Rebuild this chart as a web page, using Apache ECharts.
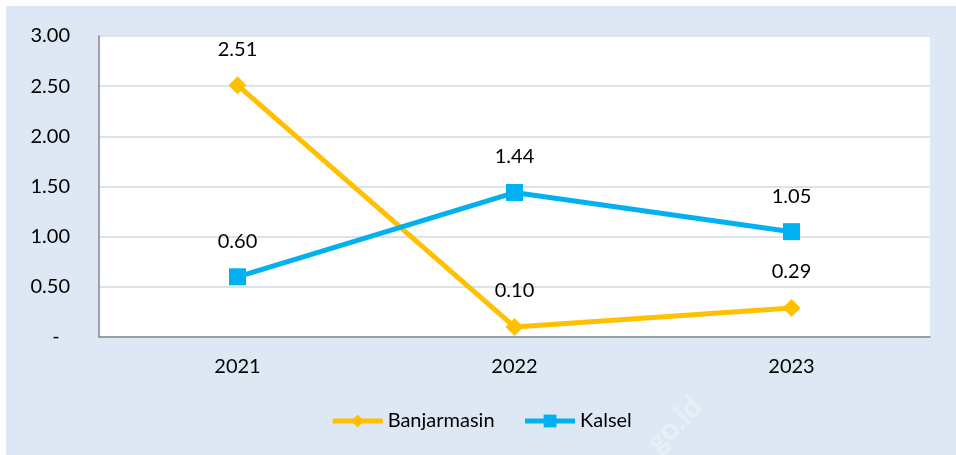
<!DOCTYPE html>
<html>
<head>
<meta charset="utf-8">
<script src="https://cdn.jsdelivr.net/npm/echarts@6/dist/echarts.min.js"></script>
<style>
  html, body { margin: 0; padding: 0; background: #fff; }
  #chart { position: absolute; left: 6px; top: 6px; width: 950px; height: 449px; }
</style>
</head>
<body>
<div id="chart"></div>
<script>
var years = ["2021", "2022", "2023"];
var banjarmasin = [2.51, 0.10, 0.29];
var kalsel = [0.60, 1.44, 1.05];

var font = "Lato, 'Open Sans', sans-serif";
var myChart = echarts.init(document.getElementById("chart"));

var option = {
  backgroundColor: "#dee8f4",
  animation: false,
  textStyle: { fontFamily: font },
  grid: {
    left: 93,
    top: 30,
    width: 831,
    height: 301,
    show: true,
    backgroundColor: "#fff",
    borderWidth: 0
  },
  legend: {
    bottom: 19,
    left: "center",
    itemWidth: 50,
    itemHeight: 16,
    itemGap: 28,
    lineStyle: { width: 5 },
    textStyle: { fontSize: 20, color: "#000", fontFamily: font },
    data: ["Banjarmasin", "Kalsel"]
  },
  xAxis: {
    type: "category",
    data: years,
    axisLine: { lineStyle: { color: "#868686", width: 1.5 } },
    axisTick: { show: false },
    axisLabel: { fontSize: 20, color: "#000", margin: 20 }
  },
  yAxis: {
    type: "value",
    min: 0,
    max: 3,
    interval: 0.5,
    axisLine: { show: true, lineStyle: { color: "#868686", width: 1.5 } },
    axisTick: { show: false },
    splitLine: { lineStyle: { color: "#dde3ea", width: 2 } },
    axisLabel: {
      fontSize: 20,
      color: "#000",
      margin: 29,
      formatter: function (v) {
        // accounting style dash for zero
        return v === 0 ? "-  " : v.toFixed(2);
      }
    }
  },
  series: [
    {
      name: "Banjarmasin",
      type: "line",
      data: banjarmasin,
      symbol: "diamond",
      symbolSize: 18,
      lineStyle: { width: 5, color: "#ffc000" },
      itemStyle: { color: "#ffc000" },
      label: {
        show: true,
        position: "top",
        distance: 17,
        fontSize: 20,
        color: "#000",
        formatter: function (p) { return p.value.toFixed(2); }
      }
    },
    {
      name: "Kalsel",
      type: "line",
      data: kalsel,
      symbol: "rect",
      symbolSize: 17,
      lineStyle: { width: 5, color: "#00b0f0" },
      itemStyle: { color: "#00b0f0" },
      label: {
        show: true,
        position: "top",
        distance: 17,
        fontSize: 20,
        color: "#000",
        formatter: function (p) { return p.value.toFixed(2); }
      }
    }
  ],
  graphic: [
    {
      type: "text",
      left: 635,
      top: 385,
      rotation: Math.PI / 4,
      style: {
        text: "go.id",
        fontSize: 30,
        fontWeight: "bold",
        fill: "rgba(255,255,255,0.3)",
        fontFamily: font
      },
      z: 0
    }
  ]
};

myChart.setOption(option);
</script>
</body>
</html>
